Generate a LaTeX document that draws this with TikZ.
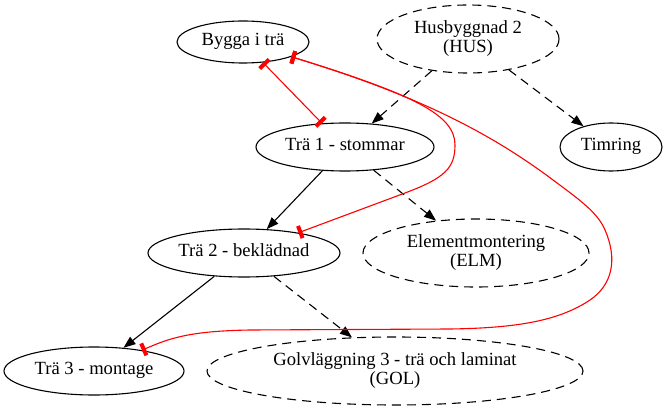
\documentclass[tikz,border=0pt]{standalone}
\usepackage{fontspec}
\setmainfont{Liberation Serif}
\usetikzlibrary{shapes.geometric,arrows.meta}
\newcommand\lbl[1]{\makebox[0pt][c]{\begin{tabular}{@{}c@{}}#1\end{tabular}}}
\begin{document}
\begin{tikzpicture}[x=1pt,y=-1pt,
  gv/.style={ellipse, draw, line width=1.1pt, inner sep=0pt, font=\fontsize{18.6}{19}\selectfont},
  dsh/.style={gv, dash pattern=on 9pt off 6pt},
  solidedge/.style={line width=1.1pt, -{Triangle[length=12pt,width=9pt]}},
  dashedge/.style={solidedge, dash pattern=on 9pt off 6pt},
  teeedge/.style={red, line width=1.1pt, {Rectangle[length=4pt,width=13pt]}-{Rectangle[length=4pt,width=13pt]}}]
\useasboundingbox (0,0) rectangle (668,411);
\node[gv, minimum width=132pt, minimum height=42pt] (bygga) at (243,42) {\lbl{Bygga i trä}};
\node[dsh, minimum width=182pt, minimum height=68pt] (hus) at (468,39) {\lbl{Husbyggnad 2\\(HUS)}};
\node[gv, minimum width=178pt, minimum height=48pt] (tra1) at (345,147) {\lbl{Trä 1 - stommar}};
\node[gv, minimum width=102pt, minimum height=48pt] (timring) at (611,147) {\lbl{Timring}};
\node[gv, minimum width=192pt, minimum height=48pt] (tra2) at (244,253) {\lbl{Trä 2 - beklädnad}};
\node[dsh, minimum width=226pt, minimum height=68pt] (elm) at (476,253) {\lbl{Elementmontering\\(ELM)}};
\node[gv, minimum width=180pt, minimum height=48pt] (tra3) at (94,371) {\lbl{Trä 3 - montage}};
\node[dsh, minimum width=376pt, minimum height=68pt] (gol) at (395,371) {\lbl{Golvläggning 3 - trä och laminat\\(GOL)}};
\draw[solidedge] (tra1) -- (tra2);
\draw[dashedge] (tra1) -- (elm);
\draw[dashedge] (hus) -- (tra1);
\draw[dashedge] (hus) -- (timring);
\draw[solidedge] (tra2) -- (tra3);
\draw[dashedge] (tra2) -- (gol);
\draw[teeedge] (bygga) -- (tra1);
\draw[teeedge] (bygga.-17) .. controls (415,95) and (455,115) .. (455,145) .. controls (455,168) and (445,178) .. (405,193) -- (tra2);
\draw[teeedge] (bygga.-17) .. controls (400,90) and (480,125) .. (553,180) .. controls (580,200) and (598,213) .. (605,230) .. controls (618,260) and (612,285) .. (590,300) .. controls (560,320) and (520,328) .. (450,329) -- (250,330) .. controls (190,331) and (170,338) .. (tra3);
\end{tikzpicture}
\end{document}
